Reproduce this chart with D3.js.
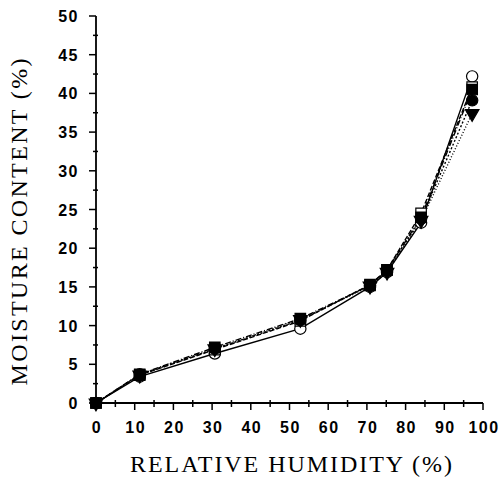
<!DOCTYPE html>
<html>
<head>
<meta charset="utf-8">
<script src="https://cdn.jsdelivr.net/npm/d3@7"></script>
<style>
  body { margin: 0; background: #fff; }
  .tick-label { font-family: "Liberation Sans", Arial, sans-serif; font-weight: bold; font-size: 16px; letter-spacing: 1.5px; }
  .axis-title { font-family: "Liberation Serif", "Times New Roman", serif; font-size: 24px; }
</style>
</head>
<body>
<svg id="chart" width="500" height="478"></svg>
<script>
// relative humidity levels (%)
var humidity = [0, 11.3, 30.7, 52.8, 70.8, 75.2, 84.0, 97.2];

// moisture content (%) for each sample
var openCircle   = [0, 3.4, 6.4, 9.6, 15.0, 16.9, 23.3, 42.2];
var openSquare   = [0, 3.6, 6.9, 10.6, 15.3, 17.2, 24.5, 40.8];
var filledCircle = [0, 3.7, 7.0, 10.7, 15.2, 17.1, 23.8, 39.1];
var filledTri    = [0, 3.6, 7.0, 10.8, 15.1, 16.9, 23.6, 37.4];
var filledSquare = [0, 3.7, 7.2, 10.9, 15.2, 17.2, 24.0, 40.5];

var xTicks = [0, 10, 20, 30, 40, 50, 60, 70, 80, 90, 100];
var yTicks = [0, 5, 10, 15, 20, 25, 30, 35, 40, 45, 50];

var svg = d3.select("#chart");

var x = d3.scaleLinear().domain([0, 100]).range([96, 483]);
var y = d3.scaleLinear().domain([0, 50]).range([403, 16]);

// axes lines
var axes = svg.append("g").attr("stroke", "#000").attr("stroke-width", 1.8);
axes.append("line").attr("x1", x(0)).attr("x2", x(100)).attr("y1", y(0)).attr("y2", y(0));
axes.append("line").attr("x1", x(0)).attr("x2", x(0)).attr("y1", y(0)).attr("y2", y(50));

// x ticks: major every 10 hanging down, minor every 5
d3.range(0, 101, 5).forEach(function(v) {
  var major = v % 10 == 0;
  axes.append("line")
    .attr("x1", x(v)).attr("x2", x(v))
    .attr("y1", major ? y(0) : y(0) - 3)
    .attr("y2", major ? y(0) + 7 : y(0) + 4)
    .attr("stroke-width", 1.5);
});

// y ticks: major every 5 outward, minor every 2.5
d3.range(0, 50.1, 2.5).forEach(function(v) {
  var major = v % 5 == 0;
  axes.append("line")
    .attr("x1", major ? x(0) - 7 : x(0) - 3).attr("x2", major ? x(0) : x(0) + 2)
    .attr("y1", y(v)).attr("y2", y(v))
    .attr("stroke-width", 1.5);
});

svg.selectAll(".xlab").data(xTicks).enter().append("text")
  .attr("class", "tick-label")
  .attr("x", function(d) { return x(d) + 1; })
  .attr("y", 433)
  .attr("text-anchor", "middle")
  .text(function(d) { return d; });

svg.selectAll(".ylab").data(yTicks).enter().append("text")
  .attr("class", "tick-label")
  .attr("x", 79)
  .attr("y", function(d) { return y(d) + 6; })
  .attr("text-anchor", "end")
  .text(function(d) { return d; });

// axis titles
svg.append("text").attr("class", "axis-title")
  .attr("x", 291).attr("y", 472)
  .attr("text-anchor", "middle")
  .attr("textLength", 322)
  .text("RELATIVE HUMIDITY (%)");

svg.append("text").attr("class", "axis-title")
  .attr("transform", "translate(27,222) rotate(-90)")
  .attr("text-anchor", "middle")
  .attr("textLength", 327)
  .text("MOISTURE CONTENT (%)");

// series, drawn bottom to top
var series = [
  {values: openCircle,   dash: null,      marker: "circle", fill: "#fff"},
  {values: filledSquare, dash: "6,2,1,2", marker: "square", fill: "#000"},
  {values: openSquare,   dash: "5,2",     marker: "square", fill: "#fff"},
  {values: filledCircle, dash: "2,2",     marker: "circle", fill: "#000"},
  {values: filledTri,    dash: "1,2",     marker: "tri",    fill: "#000"}
];

var line = d3.line()
  .x(function(d) { return x(d[0]); })
  .y(function(d) { return y(d[1]); });

series.forEach(function(s) {
  svg.append("path")
    .datum(d3.zip(humidity, s.values))
    .attr("d", line)
    .attr("fill", "none")
    .attr("stroke", "#000")
    .attr("stroke-width", 1.4)
    .attr("stroke-dasharray", s.dash);
});

var shapes = {
  circle: d3.symbol().type(d3.symbolCircle).size(100),
  square: d3.symbol().type(d3.symbolSquare).size(110),
  tri: d3.symbol().type(d3.symbolTriangle).size(80)
};

// at low humidity the filled square sits on top of everything
var order = [0, 2, 3, 4, 1];
order.forEach(function(i) {
  var s = series[i];
  svg.selectAll(null).data(d3.zip(humidity, s.values)).enter().append("path")
    .attr("d", shapes[s.marker])
    .attr("transform", function(d) {
      return "translate(" + x(d[0]) + "," + y(d[1]) + ")" + (s.marker == "tri" ? " rotate(180)" : "");
    })
    .attr("fill", s.fill)
    .attr("stroke", "#000")
    .attr("stroke-width", 1.2);
});
</script>
</body>
</html>
